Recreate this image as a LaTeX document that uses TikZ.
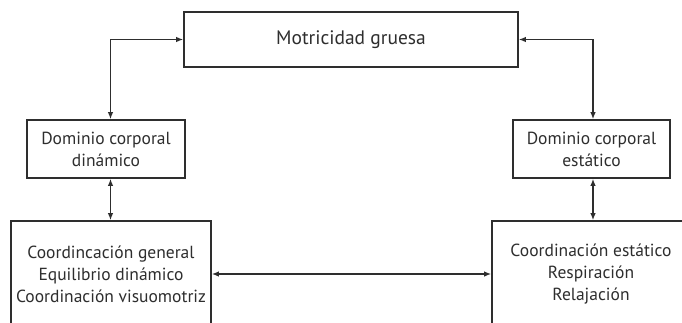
\documentclass[tikz,border=0pt]{standalone}
\usepackage{fontspec}
\setmainfont{PT Sans}
\usetikzlibrary{arrows.meta,calc}
\definecolor{ink}{HTML}{2E2E2E}
\tikzset{
  box/.style={draw=ink, line width=1.6pt, text=ink, align=center, inner sep=0pt, font=\fontsize{17.5}{22}\selectfont},
  link/.style={draw=ink, line width=1.6pt, {Latex[length=7pt,width=5.5pt]}-{Latex[length=7pt,width=5.5pt]}}
}
\begin{document}
\begin{tikzpicture}[x=1pt,y=-1pt]
\useasboundingbox (0,0) rectangle (682,322);
\clip (0,0) rectangle (682,322);
\fill[white] (0,0) rectangle (682,322);
\node[box, minimum width=334pt, minimum height=55pt, font=\fontsize{19.5}{22}\selectfont] (top) at (351,39.5) {Motricidad gruesa};
\node[box, minimum width=158pt, minimum height=58pt] (lm) at (106,149) {Dominio corporal\\dinámico};
\node[box, minimum width=157pt, minimum height=58pt] (rm) at (591.5,149) {Dominio corporal\\estático};
\node[box, minimum width=200pt, minimum height=106pt] (lb) at (111,274) {Coordincación general\\Equilibrio dinámico\\Coordinación visuomotriz};
\node[box, minimum width=198pt, minimum height=106pt] (rb) at (591,274) {Coordinación estático\\Respiración\\Relajación};
\coordinate (lx) at (110.5,0);
\coordinate (rx) at (593,0);
\draw[link] (top.west) -| (lm.north -| lx);
\draw[link] (top.east) -| (rm.north -| rx);
\draw[link] (lm.south -| lx) -- (lb.north -| lx);
\draw[link] (rm.south -| rx) -- (rb.north -| rx);
\draw[link] (lb.east) -- (rb.west);
\end{tikzpicture}
\end{document}
